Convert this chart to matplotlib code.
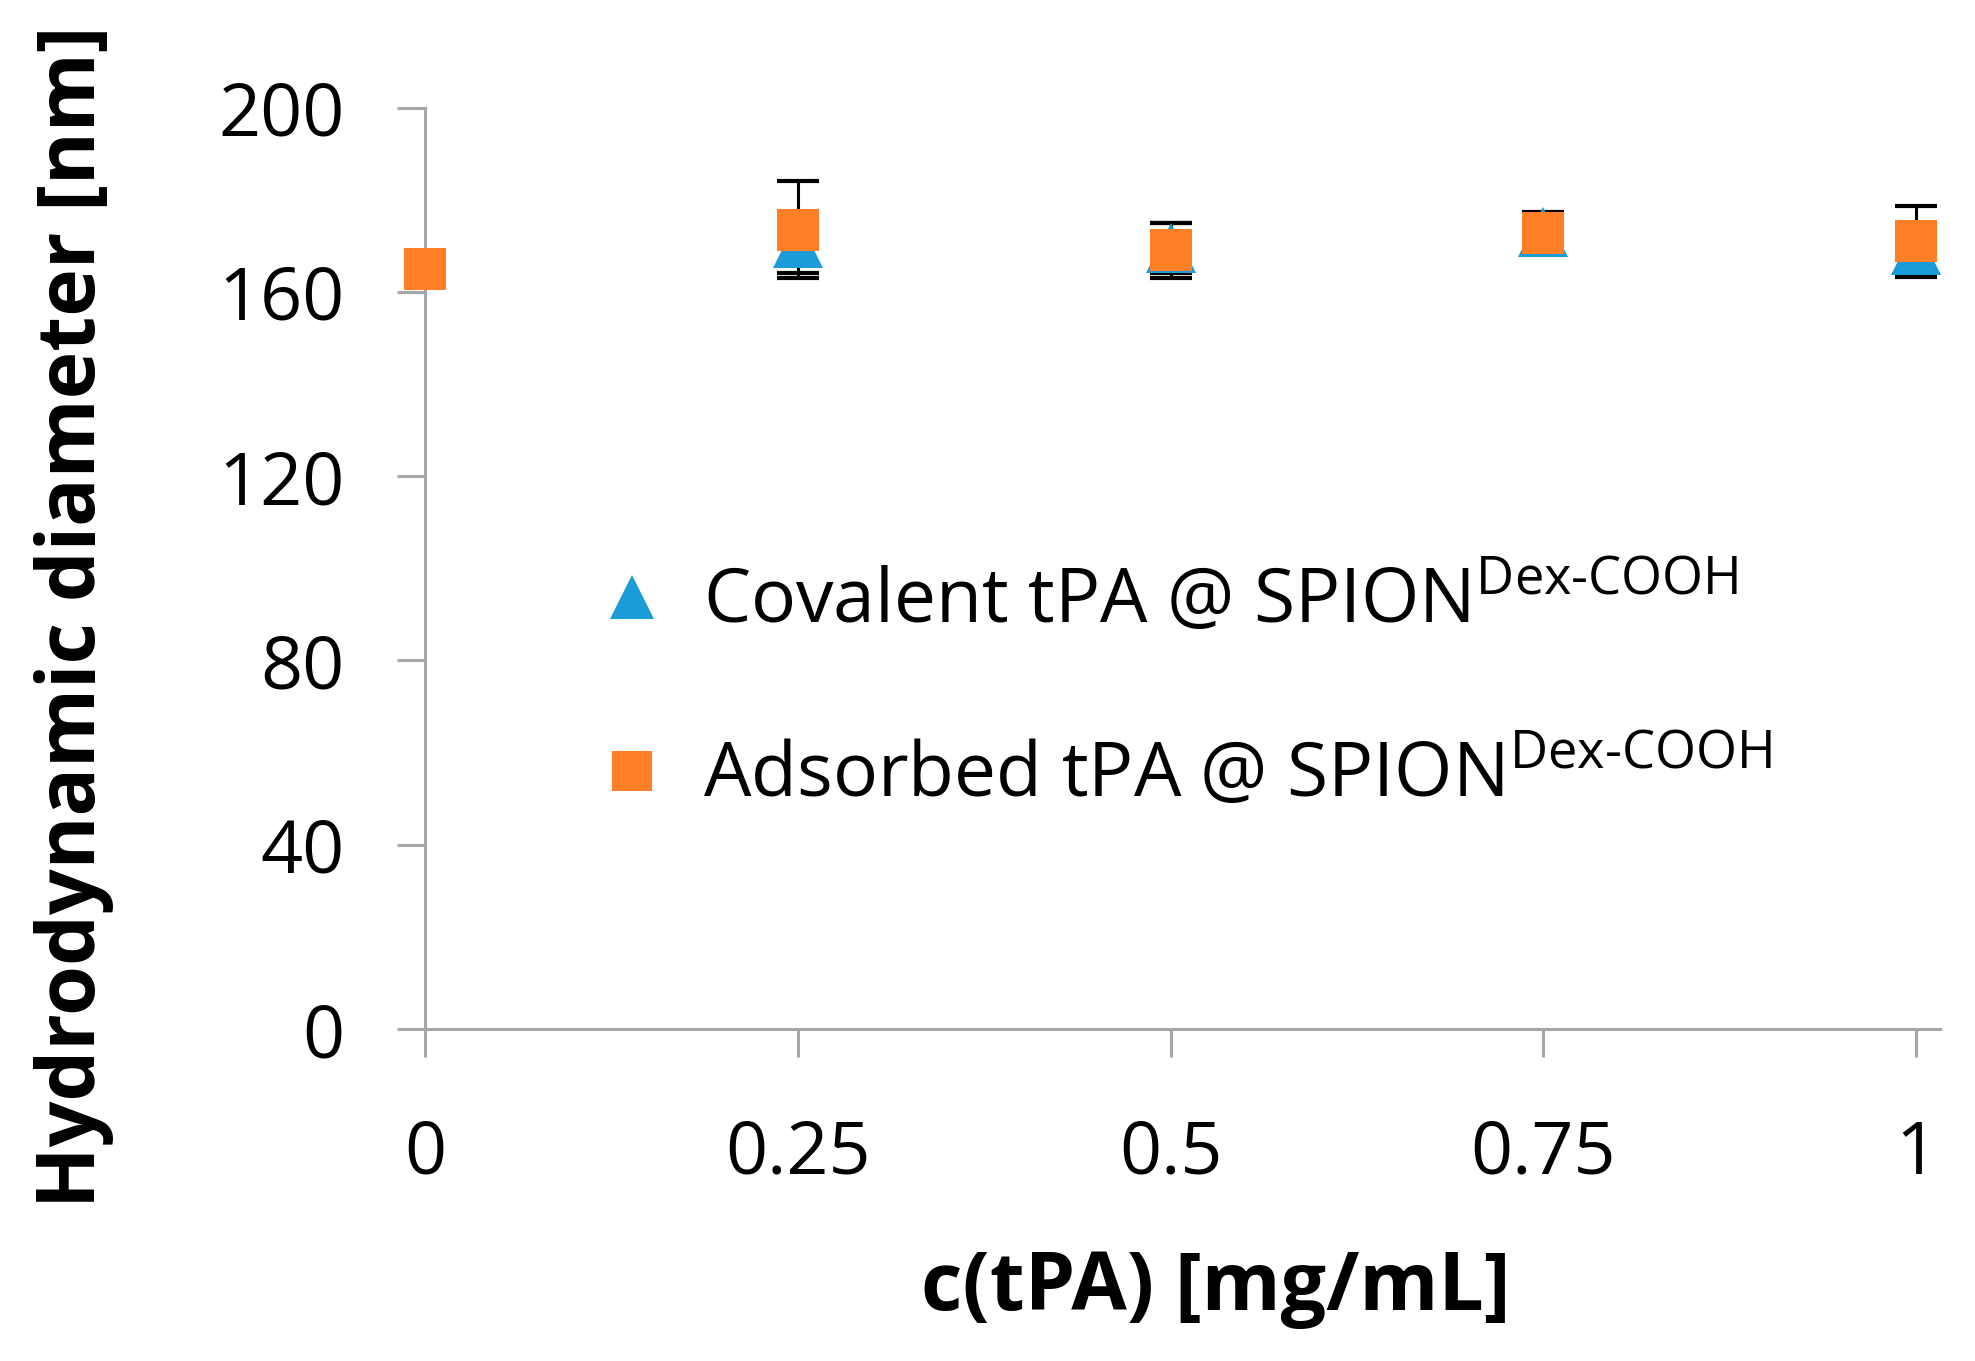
import matplotlib
matplotlib.use('Agg')
import matplotlib.pyplot as plt
from matplotlib.lines import Line2D

# data
conc_cov = [0.25, 0.5, 0.75, 1.0]
covalent = [170.5, 169.5, 173.0, 169.0]
covalent_err = [6.5, 5.5, 2.0, 2.0]

conc_ads = [0.0, 0.25, 0.5, 0.75, 1.0]
adsorbed = [165.0, 173.5, 169.0, 172.8, 171.0]
adsorbed_err = [0.0, 10.5, 6.0, 4.5, 7.7]

x_ticks = [0, 0.25, 0.5, 0.75, 1]
x_ticklabels = ['0', '0.25', '0.5', '0.75', '1']
y_ticks = [0, 40, 80, 120, 160, 200]

blue = '#1b9bd7'
orange = '#ff7f27'
axis_grey = '#a6a6a6'

plt.rcParams['font.family'] = ['Open Sans', 'DejaVu Sans']
plt.rcParams['mathtext.fontset'] = 'custom'
plt.rcParams['mathtext.rm'] = 'Open Sans'
plt.rcParams['mathtext.it'] = 'Open Sans'

fig = plt.figure(figsize=(19.75, 13.61), dpi=100)
ax = fig.add_axes([0.2152, 0.2439, 0.7671, 0.6771])

def draw_err(xs, ys, errs):
  # only points that actually have an error bar
  keep = [i for i in range(len(xs)) if errs[i] > 0]
  ax.errorbar([xs[i] for i in keep], [ys[i] for i in keep],
              yerr=[errs[i] for i in keep], fmt='none', ecolor='black',
              elinewidth=2.2, capsize=15, capthick=3, zorder=2, clip_on=False)

draw_err(conc_cov, covalent, covalent_err)
draw_err(conc_ads, adsorbed, adsorbed_err)
ax.plot(conc_cov, covalent, linestyle='none', marker='^', markersize=36,
        color=blue, markeredgewidth=0, zorder=3, clip_on=False)
ax.plot(conc_ads, adsorbed, linestyle='none', marker='s', markersize=30,
        color=orange, markeredgewidth=0, zorder=4, clip_on=False)

ax.set_xlim(0, 1.016)
ax.set_ylim(0, 200)
ax.set_xticks(x_ticks)
ax.set_xticklabels(x_ticklabels)
ax.set_yticks(y_ticks)

for s in ['top', 'right']:
  ax.spines[s].set_visible(False)
for s in ['left', 'bottom']:
  ax.spines[s].set_color(axis_grey)
  ax.spines[s].set_linewidth(2.2)

ax.tick_params(axis='both', direction='out', length=20, width=2.2,
               color=axis_grey, labelsize=53, labelcolor='black')
ax.tick_params(axis='x', pad=44)
ax.tick_params(axis='y', pad=38)

ax.set_xlabel('c(tPA) [mg/mL]', fontsize=58, fontweight='bold')
ax.xaxis.set_label_coords(0.522, -0.282)
ax.xaxis.label.set_va('center')

ax.set_ylabel('Hydrodynamic diameter [nm]', fontsize=58, fontweight='bold')
ax.yaxis.set_label_coords(-0.232, 0.447)
ax.yaxis.label.set_va('center')

handles = [
  Line2D([], [], linestyle='none', marker='^', markersize=31, color=blue, markeredgewidth=0),
  Line2D([], [], linestyle='none', marker='s', markersize=29, color=orange, markeredgewidth=0),
]
labels = [
  r'Covalent tPA @ SPION$^{\mathrm{Dex\text{-}COOH}}$',
  r'Adsorbed tPA @ SPION$^{\mathrm{Dex\text{-}COOH}}$',
]
ax.legend(handles, labels, loc='upper left', bbox_to_anchor=(0.067, 0.578),
          frameon=False, fontsize=54, handlelength=1.0, handletextpad=0.45,
          labelspacing=1.28)

fig.savefig('out.png', dpi=100)
